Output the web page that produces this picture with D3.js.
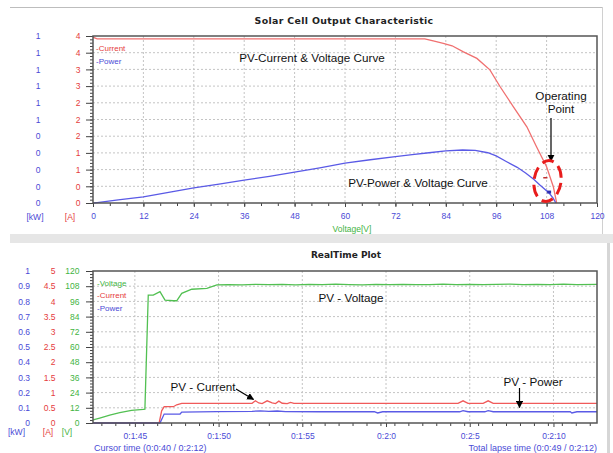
<!DOCTYPE html>
<html><head><meta charset="utf-8">
<script src="https://cdn.jsdelivr.net/npm/d3@7"></script>
<style>
html,body{margin:0;padding:0;background:#fff;}
svg{display:block;font-family:"Liberation Sans",Arial,sans-serif;}
</style></head><body>
<svg id="chart" width="613" height="453"></svg>
<script>
// ---- Solar cell output characteristic (sweep over PV voltage) ----
const ivVoltage = [0, 1, 12, 24, 36, 48, 60, 72, 79, 81, 83.4, 85.5, 88.2, 91.4, 94.5, 96.9, 100.1, 103.3, 105.6, 108.0, 109.6, 110.4];
const ivCurrent = [4.07, 4.03, 4.03, 4.03, 4.03, 4.03, 4.03, 4.03, 4.03, 3.98, 3.92, 3.86, 3.71, 3.55, 3.27, 2.86, 2.36, 1.87, 1.38, 0.89, 0.40, 0.0];
const pvVoltage = [0, 1, 6, 12, 18, 24, 30, 36, 42, 48, 54, 60, 66, 72, 76, 80, 84, 88, 91, 94, 96, 98.5, 101, 103, 105, 106.4, 108.6, 109.6, 110.2];
const pvPower = [0, 0.003, 0.02, 0.04, 0.07, 0.099, 0.124, 0.15, 0.176, 0.204, 0.232, 0.263, 0.285, 0.305, 0.318, 0.331, 0.344, 0.349, 0.347, 0.331, 0.31, 0.272, 0.235, 0.198, 0.155, 0.119, 0.066, 0.03, 0.0];
const voltageTicks = [0, 12, 24, 36, 48, 60, 72, 84, 96, 108, 120];
const ivCurrentTickLabels = ['0', '0', '1', '1', '2', '2', '2', '3', '3', '4', '4'];
const pvPowerTickLabels = ['0', '0', '0', '0', '0', '1', '1', '1', '1', '1', '1'];
const operatingVoltage = 108.6;
const operatingCurrent = 0.62;
const operatingPower = 0.072;

// ---- RealTime plot (seconds since start) ----
const rtVoltageTime = [102.5, 102.9, 103.5, 104.1, 104.8, 105.5, 105.6, 105.8, 106.1, 106.5, 106.8, 107.3, 107.5, 107.8, 108.4, 109.3, 109.9,
  110.6, 111.4, 112.2, 113.0, 113.8, 114.6, 115.4, 116.2, 117.0, 117.8, 118.6, 119.4, 120.2, 121.0, 121.8, 122.6, 123.4, 124.2, 125.0, 125.8, 126.6, 127.4, 128.2, 129.0, 129.8, 130.6, 131.4, 132.6];
const rtVoltage = [2.4, 3.9, 6.3, 8.1, 10.0, 10.8, 11.0, 101.0, 101.0, 103.7, 97.0, 96.5, 96.5, 102.4, 105.6, 106.3, 109.0,
  109.3, 109.0, 109.5, 109.2, 109.4, 109.1, 109.5, 109.2, 109.6, 109.3, 109.1, 109.4, 109.2, 109.5, 109.3, 109.2, 109.6, 109.3, 109.5, 109.2, 109.4, 109.6, 109.2, 109.4, 109.3, 109.6, 109.3, 109.5];
const rtCurrentTime = [102.5, 106.45, 106.6, 106.75, 107.3, 107.5, 107.8, 112.0, 112.2, 112.4, 112.6, 112.9, 113.2, 113.4, 113.6, 113.8, 114.1, 114.3, 114.5, 124.3, 124.6, 124.9, 125.8, 126.1, 126.4, 132.6];
const rtCurrent = [0, 0, 0.4, 0.536, 0.536, 0.6, 0.648, 0.648, 0.73, 0.66, 0.64, 0.73, 0.66, 0.64, 0.72, 0.65, 0.64, 0.68, 0.648, 0.648, 0.73, 0.648, 0.648, 0.73, 0.648, 0.648];
const rtPowerTime = [102.5, 106.5, 106.75, 107.7, 107.8, 109.9, 112.0, 112.5, 113.0, 113.5, 114.0, 116.0, 119.3, 119.5, 119.8, 124.4, 124.6, 124.9, 125.9, 126.1, 126.4, 131.0, 131.1, 131.4, 132.6];
const rtPower = [0, 0, 0.059, 0.059, 0.072, 0.075, 0.077, 0.08, 0.076, 0.079, 0.075, 0.074, 0.074, 0.066, 0.074, 0.074, 0.081, 0.074, 0.074, 0.081, 0.074, 0.074, 0.066, 0.074, 0.074];
const rtTimeTicks = [105, 110, 115, 120, 125, 130];
const rtVoltageTicks = [0, 12, 24, 36, 48, 60, 72, 84, 96, 108, 120];
const rtCurrentTicks = [0, 0.5, 1, 1.5, 2, 2.5, 3, 3.5, 4, 4.5, 5];
const rtPowerTicks = [0, 0.1, 0.2, 0.3, 0.4, 0.5, 0.6, 0.7, 0.8, 0.9, 1];

const C = {
  blueText: '#4a4ad6', redText: '#e53c3c', greenText: '#3fb43f',
  blue: '#5a5ae6', red: '#f07070', redRt: '#f05a5a', green: '#52c052',
  grid: '#c4c4c4', frame: '#555'
};

const svg = d3.select('#chart');

// defs: arrowhead + clips
const defs = svg.append('defs');
defs.append('marker').attr('id', 'arrow').attr('viewBox', '0 0 10 10')
  .attr('refX', 9).attr('refY', 5).attr('markerWidth', 6).attr('markerHeight', 6)
  .attr('orient', 'auto-start-reverse')
  .append('path').attr('d', 'M0,0 L10,5 L0,10 Z').attr('fill', '#000');

// panel chrome
svg.append('line').attr('x1', 10).attr('x2', 602).attr('y1', 7.5).attr('y2', 7.5).attr('stroke', '#bdbdbd');
svg.append('line').attr('x1', 602.5).attr('x2', 602.5).attr('y1', 7).attr('y2', 234).attr('stroke', '#d0d0d0');
svg.append('rect').attr('x', 10).attr('y', 234).attr('width', 603).attr('height', 9).attr('fill', '#e6e6e6');
svg.append('line').attr('x1', 608.5).attr('x2', 608.5).attr('y1', 243).attr('y2', 453).attr('stroke', '#d6d6d6').attr('stroke-width', 3);

function panel(opt) {
  const { left, right, top, bottom, clipId } = opt;
  defs.append('clipPath').attr('id', clipId).append('rect')
    .attr('x', left).attr('y', top - 2).attr('width', right - left).attr('height', bottom - top + 5);
  const g = svg.append('g');
  // grid
  const gg = g.append('g').attr('stroke', C.grid).attr('stroke-dasharray', '2,2').attr('stroke-width', 1);
  opt.xGrid.forEach(x => gg.append('line').attr('x1', x).attr('x2', x).attr('y1', top).attr('y2', bottom));
  opt.yGrid.forEach(y => gg.append('line').attr('x1', left).attr('x2', right).attr('y1', y).attr('y2', y));
  return g;
}

function styleAxis(sel, color) {
  sel.select('.domain').remove();
  sel.selectAll('line').attr('stroke', '#444');
  sel.selectAll('text').attr('fill', color).attr('font-size', 8.5)
    .attr('font-family', '"Liberation Sans",Arial,sans-serif');
}

// ================= TOP: output characteristic =================
{
  const L = 93, R = 597, T = 36, B = 203;
  const x = d3.scaleLinear([0, 120], [L, R]);
  const yI = d3.scaleLinear([0, 4.1], [B, T]);
  const yP = d3.scaleLinear([0, 1.1], [B, T]);
  const idx = d3.range(11);
  const yTickVals = idx.map(i => 4.1 * i / 10);

  const g = panel({ left: L, right: R, top: T, bottom: B, clipId: 'clipTop',
    xGrid: voltageTicks.slice(1, -1).map(x), yGrid: yTickVals.slice(1, -1).map(yI) });

  svg.append('text').attr('x', 344).attr('y', 23.5).attr('text-anchor', 'middle')
    .attr('font-family', '"DejaVu Sans",Verdana,sans-serif').attr('font-weight', 'bold').attr('font-size', 9.4)
    .attr('letter-spacing', 0.35).attr('fill', '#222').text('Solar Cell Output Characteristic');

  // ruler ticks on the left edge
  const minorVals = d3.range(51).map(i => 4.1 * i / 50);
  svg.append('g').attr('transform', `translate(${L},0)`)
    .call(d3.axisLeft(yI).tickValues(minorVals).tickSize(3).tickFormat(''))
    .call(s => styleAxis(s, '#000'));
  svg.append('g').attr('transform', `translate(${L},0)`)
    .call(d3.axisLeft(yI).tickValues(yTickVals).tickSize(7).tickFormat(''))
    .call(s => styleAxis(s, '#000'));

  // label columns
  svg.append('g').attr('transform', 'translate(80.5,0)')
    .call(d3.axisLeft(yI).tickValues(yTickVals).tickSize(0).tickPadding(0).tickFormat((d, i) => ivCurrentTickLabels[i]))
    .call(s => styleAxis(s, C.redText));
  svg.append('g').attr('transform', 'translate(40.5,0)')
    .call(d3.axisLeft(yP).tickValues(idx.map(i => 1.1 * i / 10)).tickSize(0).tickPadding(0).tickFormat((d, i) => pvPowerTickLabels[i]))
    .call(s => styleAxis(s, C.blueText));

  // x axis
  svg.append('g').attr('transform', `translate(0,${B})`)
    .call(d3.axisBottom(x).tickValues(d3.range(0, 121, 4)).tickSize(3).tickFormat(''))
    .call(s => styleAxis(s, C.blueText));
  svg.append('g').attr('transform', `translate(0,${B})`)
    .call(d3.axisBottom(x).tickValues(voltageTicks).tickSize(4).tickPadding(6))
    .call(s => styleAxis(s, C.blueText));

  svg.append('text').attr('x', 35).attr('y', 220).attr('text-anchor', 'middle').attr('font-size', 8.5).attr('fill', C.blueText).text('[kW]');
  svg.append('text').attr('x', 70).attr('y', 220).attr('text-anchor', 'middle').attr('font-size', 8.5).attr('fill', C.redText).text('[A]');
  svg.append('text').attr('x', 352).attr('y', 232).attr('text-anchor', 'middle').attr('font-size', 8.5).attr('fill', C.greenText).text('Voltage[V]');

  const curves = g.append('g').attr('clip-path', 'url(#clipTop)').attr('fill', 'none').attr('stroke-width', 1.3);
  curves.append('path').attr('stroke', C.red)
    .attr('d', d3.line().x((d, i) => x(ivVoltage[i])).y(d => yI(d))(ivCurrent));
  curves.append('path').attr('stroke', C.blue)
    .attr('d', d3.line().x((d, i) => x(pvVoltage[i])).y(d => yP(d))(pvPower));

  // frame
  svg.append('rect').attr('x', L).attr('y', T).attr('width', R - L).attr('height', B - T)
    .attr('fill', 'none').attr('stroke', C.frame).attr('stroke-width', 1.5);

  // legend
  svg.append('text').attr('x', 96).attr('y', 51).attr('font-size', 8).attr('fill', C.redText).text('-Current');
  svg.append('text').attr('x', 96).attr('y', 64).attr('font-size', 8).attr('fill', C.blueText).text('-Power');

  // annotations
  const ann = svg.append('g').attr('font-size', 11.7).attr('fill', '#111').attr('text-anchor', 'middle');
  ann.append('text').attr('x', 312).attr('y', 62).text('PV-Current & Voltage Curve');
  ann.append('text').attr('x', 418).attr('y', 187).text('PV-Power & Voltage Curve');
  ann.append('text').attr('x', 561).attr('y', 99.5).text('Operating');
  ann.append('text').attr('x', 561).attr('y', 112.5).text('Point');
  svg.append('line').attr('x1', 551).attr('x2', 551).attr('y1', 118).attr('y2', 161)
    .attr('stroke', '#000').attr('stroke-width', 1.2).attr('marker-end', 'url(#arrow)');

  // operating point markers
  const ox = x(operatingVoltage);
  svg.append('line').attr('x1', x(107.2)).attr('x2', x(108.2)).attr('y1', yI(operatingCurrent)).attr('y2', yI(operatingCurrent))
    .attr('stroke', '#c03030').attr('stroke-width', 1.5);
  svg.append('rect').attr('x', ox - 2).attr('y', yP(operatingPower) - 1.5).attr('width', 4).attr('height', 3).attr('fill', '#3030b0');
  svg.append('ellipse').attr('cx', 547.5).attr('cy', 181).attr('rx', 13.5).attr('ry', 20.5)
    .attr('fill', 'none').attr('stroke', '#e81c1c').attr('stroke-width', 3).attr('stroke-dasharray', '12,6')
    .attr('transform', 'rotate(8,547.5,181)');
}

// ================= BOTTOM: realtime plot =================
{
  const L = 93, R = 597, T = 271, B = 423;
  const x = d3.scaleLinear([102.5, 132.6], [L, R]);
  const yV = d3.scaleLinear([0, 120], [B, T]);
  const yA = d3.scaleLinear([0, 5], [B, T]);
  const yK = d3.scaleLinear([0, 1], [B, T]);

  const g = panel({ left: L, right: R, top: T, bottom: B, clipId: 'clipRt',
    xGrid: rtTimeTicks.map(x), yGrid: rtVoltageTicks.slice(1, -1).map(yV) });

  svg.append('text').attr('x', 346).attr('y', 258).attr('text-anchor', 'middle')
    .attr('font-family', '"DejaVu Sans",Verdana,sans-serif').attr('font-weight', 'bold').attr('font-size', 9)
    .attr('fill', '#222').text('RealTime Plot');

  svg.append('g').attr('transform', `translate(${L},0)`)
    .call(d3.axisLeft(yV).tickValues(d3.range(0, 120.01, 2.4)).tickSize(3).tickFormat(''))
    .call(s => styleAxis(s, '#000'));
  svg.append('g').attr('transform', `translate(${L},0)`)
    .call(d3.axisLeft(yV).tickValues(rtVoltageTicks).tickSize(7).tickFormat(''))
    .call(s => styleAxis(s, '#000'));

  svg.append('g').attr('transform', 'translate(79.5,0)')
    .call(d3.axisLeft(yV).tickValues(rtVoltageTicks).tickSize(0).tickPadding(0))
    .call(s => styleAxis(s, C.greenText));
  svg.append('g').attr('transform', 'translate(55.5,0)')
    .call(d3.axisLeft(yA).tickValues(rtCurrentTicks).tickSize(0).tickPadding(0).tickFormat(d3.format('')))
    .call(s => styleAxis(s, C.redText));
  svg.append('g').attr('transform', 'translate(30,0)')
    .call(d3.axisLeft(yK).tickValues(rtPowerTicks).tickSize(0).tickPadding(0).tickFormat(d3.format('')))
    .call(s => styleAxis(s, C.blueText));

  const fmtTime = s => `0:${Math.floor(s / 60)}:${s % 60}`;
  svg.append('g').attr('transform', `translate(0,${B})`)
    .call(d3.axisBottom(x).tickValues(d3.range(103, 133, 5 / 6)).tickSize(3).tickFormat(''))
    .call(s => styleAxis(s, C.blueText));
  svg.append('g').attr('transform', `translate(0,${B})`)
    .call(d3.axisBottom(x).tickValues(rtTimeTicks).tickSize(4).tickPadding(6).tickFormat(fmtTime))
    .call(s => styleAxis(s, C.blueText));

  svg.append('text').attr('x', 16.5).attr('y', 435).attr('text-anchor', 'middle').attr('font-size', 8.5).attr('fill', C.blueText).text('[kW]');
  svg.append('text').attr('x', 48).attr('y', 435).attr('text-anchor', 'middle').attr('font-size', 8.5).attr('fill', C.redText).text('[A]');
  svg.append('text').attr('x', 67).attr('y', 435).attr('text-anchor', 'middle').attr('font-size', 8.5).attr('fill', C.greenText).text('[V]');

  svg.append('text').attr('x', 94).attr('y', 451).attr('font-size', 9).attr('fill', C.blueText).text('Cursor time (0:0:40 / 0:2:12)');
  svg.append('text').attr('x', 597).attr('y', 451).attr('text-anchor', 'end').attr('font-size', 9).attr('fill', C.blueText).text('Total lapse time (0:0:49 / 0:2:12)');

  const curves = g.append('g').attr('clip-path', 'url(#clipRt)').attr('fill', 'none').attr('stroke-width', 1.3);
  curves.append('path').attr('stroke', C.green)
    .attr('d', d3.line().x((d, i) => x(rtVoltageTime[i])).y(d => yV(d))(rtVoltage));
  curves.append('path').attr('stroke', C.redRt)
    .attr('d', d3.line().x((d, i) => x(rtCurrentTime[i])).y(d => yA(d))(rtCurrent));
  curves.append('path').attr('stroke', C.blue)
    .attr('d', d3.line().x((d, i) => x(rtPowerTime[i])).y(d => yK(d))(rtPower));

  svg.append('rect').attr('x', L).attr('y', T).attr('width', R - L).attr('height', B - T)
    .attr('fill', 'none').attr('stroke', C.frame).attr('stroke-width', 1.5);

  svg.append('text').attr('x', 97).attr('y', 285.5).attr('font-size', 8).attr('fill', C.greenText).text('-Voltage');
  svg.append('text').attr('x', 97).attr('y', 298).attr('font-size', 8).attr('fill', C.redText).text('-Current');
  svg.append('text').attr('x', 97).attr('y', 310.5).attr('font-size', 8).attr('fill', C.blueText).text('-Power');

  const ann = svg.append('g').attr('font-size', 11.7).attr('fill', '#111').attr('text-anchor', 'middle');
  ann.append('text').attr('x', 351).attr('y', 302).text('PV - Voltage');
  ann.append('text').attr('x', 203).attr('y', 391).text('PV - Current');
  ann.append('text').attr('x', 533).attr('y', 386).text('PV - Power');
  svg.append('line').attr('x1', 236).attr('y1', 389).attr('x2', 253.5).attr('y2', 399.5)
    .attr('stroke', '#000').attr('stroke-width', 1.2).attr('marker-end', 'url(#arrow)');
  svg.append('line').attr('x1', 519.5).attr('x2', 519.5).attr('y1', 388).attr('y2', 407.5)
    .attr('stroke', '#000').attr('stroke-width', 1.2).attr('marker-end', 'url(#arrow)');
}
</script>
</body></html>
